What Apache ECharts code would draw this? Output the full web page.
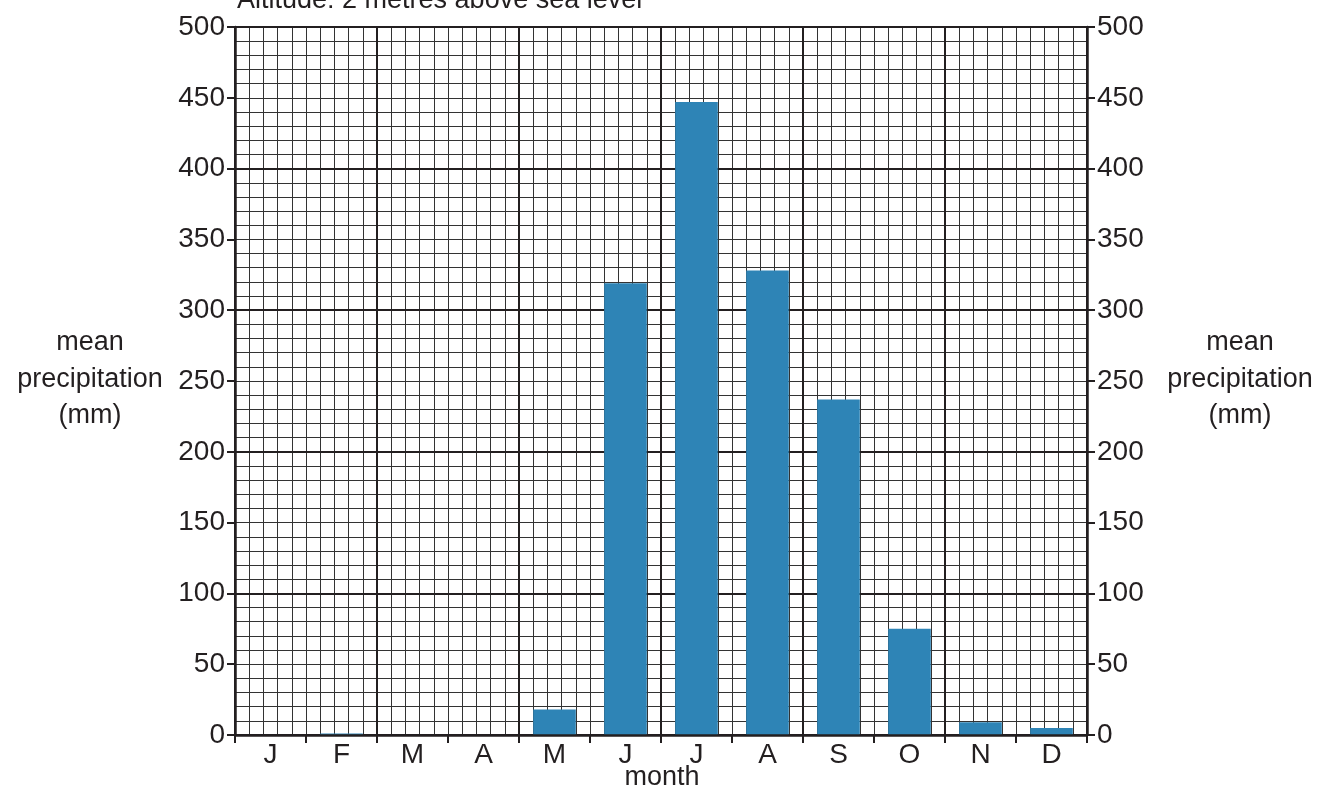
<!DOCTYPE html>
<html>
<head>
<meta charset="utf-8">
<script src="https://cdn.jsdelivr.net/npm/echarts@6/dist/echarts.min.js"></script>
<style>
html,body{margin:0;padding:0;background:#fff;}
#chart{width:1335px;height:789px;}
</style>
</head>
<body>
<div id="chart"></div>
<script>
const months = ['J','F','M','A','M','J','J','A','S','O','N','D'];
const precipitation = [0, 1, 0, 0, 18, 319, 447, 328, 237, 75, 9, 5];
const yTicks = [0, 50, 100, 150, 200, 250, 300, 350, 400, 450, 500];
const titleText = 'Altitude: 2 metres above sea level';
const yAxisName = ['mean', 'precipitation', '(mm)'];
const xAxisName = 'month';

const FONT = '"Liberation Sans", Arial, Helvetica, sans-serif';
const INK = '#231f20';
const chart = echarts.init(document.getElementById('chart'));

const gridL = 235, gridR = 1087, gridT = 27, gridB = 735;

function nameLines(cx) {
  const ys = [343, 380, 416];
  return yAxisName.map((t, i) => ({
    type: 'text', x: cx, y: ys[i],
    style: { text: t, fill: INK, font: '27px ' + FONT, align: 'center', verticalAlign: 'middle' }
  }));
}

const labelStyle = { color: INK, fontSize: 28, fontFamily: FONT };
const hidden = { axisLine: { show: false }, axisTick: { show: false }, axisLabel: { show: false } };

function gridAxis(max, interval, width, color, z) {
  return Object.assign({
    type: 'value', min: 0, max: max, interval: interval, z: z,
    splitLine: { show: true, lineStyle: { color: color, width: width } }
  }, hidden);
}

chart.setOption({
  animation: false,
  backgroundColor: '#fff',
  grid: { left: gridL, right: 1335 - gridR, top: gridT, bottom: 789 - gridB, containLabel: false },
  xAxis: [
    {
      type: 'category', data: months, position: 'bottom',
      axisLine: { show: true, lineStyle: { color: INK, width: 2.5 } },
      axisTick: { show: true, alignWithLabel: false, inside: false, length: 8, lineStyle: { color: INK, width: 2 } },
      axisLabel: Object.assign({ margin: 6, interval: 0 }, labelStyle),
      splitLine: { show: false }, z: 5
    },
    Object.assign(gridAxis(60, 1, 1, '#333', 0), { position: 'bottom' }),
    Object.assign(gridAxis(60, 10, 2, INK, 1), { position: 'bottom' })
  ],
  yAxis: [
    {
      type: 'value', min: 0, max: 500, interval: 50, position: 'left',
      axisLine: { show: true, lineStyle: { color: INK, width: 2.5 } },
      axisTick: { show: true, inside: false, length: 8, lineStyle: { color: INK, width: 2 } },
      axisLabel: Object.assign({ margin: 10, formatter: v => yTicks.includes(v) ? String(v) : '' }, labelStyle),
      splitLine: { show: false }, z: 5
    },
    Object.assign(gridAxis(500, 10, 1, '#333', 0), { position: 'left' }),
    Object.assign(gridAxis(500, 100, 2, INK, 1), { position: 'left' }),
    {
      type: 'value', min: 0, max: 500, interval: 50, position: 'right',
      axisLine: { show: true, onZero: false, lineStyle: { color: INK, width: 2.5 } },
      axisTick: { show: true, inside: false, length: 8, lineStyle: { color: INK, width: 2 } },
      axisLabel: Object.assign({ margin: 10, formatter: v => yTicks.includes(v) ? String(v) : '' }, labelStyle),
      splitLine: { show: false }, z: 5
    }
  ],
  series: [{
    type: 'bar', xAxisIndex: 0, yAxisIndex: 0, data: precipitation,
    barWidth: '60%', itemStyle: { color: '#2e84b6' }, z: 3, silent: true
  }],
  graphic: [
    { type: 'text', x: 237, y: 1, style: { text: titleText, fill: INK, font: '27px ' + FONT, align: 'left', verticalAlign: 'middle' } },
    { type: 'text', x: 662, y: 778, style: { text: xAxisName, fill: INK, font: '27px ' + FONT, align: 'center', verticalAlign: 'middle' } }
  ].concat(nameLines(90)).concat(nameLines(1240))
});
</script>
</body>
</html>
